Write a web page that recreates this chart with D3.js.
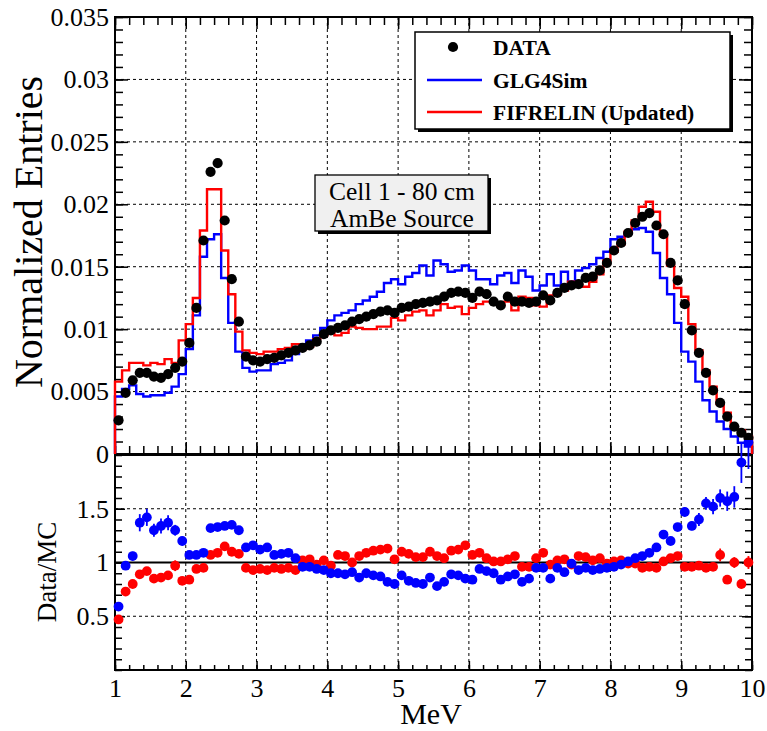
<!DOCTYPE html>
<html>
<head>
<meta charset="utf-8">
<script src="https://cdn.jsdelivr.net/npm/d3@7"></script>
<style>
  html, body { margin: 0; padding: 0; background: #fff; }
  svg { display: block; }
  text { font-family: "Liberation Serif", "Times New Roman", serif; fill: #000; }
</style>
</head>
<body>
<svg id="chart" width="767" height="731"></svg>
<script>
// ---- Energy binning (MeV), 0.1 MeV wide bins ----
const energyBins = [
  1.05,1.15,1.25,1.35,1.45,1.55,1.65,1.75,1.85,1.95,
  2.05,2.15,2.25,2.35,2.45,2.55,2.65,2.75,2.85,2.95,
  3.05,3.15,3.25,3.35,3.45,3.55,3.65,3.75,3.85,3.95,
  4.05,4.15,4.25,4.35,4.45,4.55,4.65,4.75,4.85,4.95,
  5.05,5.15,5.25,5.35,5.45,5.55,5.65,5.75,5.85,5.95,
  6.05,6.15,6.25,6.35,6.45,6.55,6.65,6.75,6.85,6.95,
  7.05,7.15,7.25,7.35,7.45,7.55,7.65,7.75,7.85,7.95,
  8.05,8.15,8.25,8.35,8.45,8.55,8.65,8.75,8.85,8.95,
  9.05,9.15,9.25,9.35,9.45,9.55,9.65,9.75,9.85,9.95
];
const binWidth = 0.1;

// ---- Normalized entries ----
const dataEntries = [
  0.0027,0.0049,0.0059,0.0065,0.0065,0.0062,0.0061,0.0064,0.0069,0.0074,
  0.0089,0.0117,0.0171,0.0226,0.0233,0.0187,0.0140,0.0106,0.0078,0.0075,
  0.0074,0.0076,0.0077,0.0079,0.0081,0.0083,0.0085,0.0087,0.0090,0.0096,
  0.0099,0.0101,0.0103,0.0106,0.0108,0.0110,0.0112,0.0114,0.0115,0.0113,
  0.0117,0.0118,0.0120,0.0121,0.0122,0.0123,0.0126,0.0129,0.0130,0.0129,
  0.0125,0.0130,0.0128,0.0122,0.0119,0.0126,0.0122,0.0122,0.0121,0.0122,
  0.0127,0.0123,0.0129,0.0133,0.0135,0.0136,0.0141,0.0142,0.0147,0.0153,
  0.0163,0.0169,0.0177,0.0185,0.0190,0.0193,0.0183,0.0176,0.0153,0.0139,
  0.0120,0.0099,0.0081,0.0065,0.0051,0.0041,0.0030,0.0022,0.0017,0.0013
];
const glg4simEntries = [
  0.0046,0.0052,0.0055,0.0048,0.0046,0.0047,0.0047,0.0049,0.0054,0.0064,
  0.0084,0.0111,0.0158,0.0172,0.0176,0.0141,0.0105,0.0082,0.0069,0.0066,
  0.0067,0.0067,0.0072,0.0073,0.0075,0.0080,0.0088,0.0091,0.0095,0.0101,
  0.0107,0.0111,0.0113,0.0115,0.0120,0.0123,0.0126,0.0130,0.0137,0.0140,
  0.0136,0.0142,0.0145,0.0151,0.0143,0.0155,0.0152,0.0146,0.0147,0.0151,
  0.0147,0.0140,0.0140,0.0136,0.0143,0.0145,0.0137,0.0147,0.0142,0.0131,
  0.0135,0.0144,0.0135,0.0146,0.0138,0.0147,0.0149,0.0152,0.0157,0.0162,
  0.0172,0.0174,0.0177,0.0180,0.0181,0.0178,0.0161,0.0141,0.0128,0.0105,
  0.0082,0.0074,0.0058,0.0043,0.0034,0.0026,0.0020,0.0014,0.0009,0.0006
];
const fifrelinEntries = [
  0.0058,0.0067,0.0073,0.0073,0.0071,0.0073,0.0072,0.0076,0.0073,0.0091,
  0.0104,0.0125,0.0179,0.0212,0.0212,0.0163,0.0128,0.0098,0.0083,0.0081,
  0.0080,0.0082,0.0082,0.0084,0.0085,0.0088,0.0084,0.0086,0.0092,0.0095,
  0.0098,0.0095,0.0097,0.0102,0.0101,0.0100,0.0100,0.0102,0.0102,0.0109,
  0.0107,0.0111,0.0114,0.0115,0.0111,0.0115,0.0120,0.0117,0.0118,0.0112,
  0.0117,0.0120,0.0122,0.0121,0.0119,0.0122,0.0115,0.0126,0.0125,0.0119,
  0.0118,0.0127,0.0128,0.0131,0.0138,0.0136,0.0134,0.0138,0.0144,0.0155,
  0.0162,0.0168,0.0178,0.0187,0.0198,0.0202,0.0194,0.0175,0.0151,0.0133,
  0.0126,0.0104,0.0083,0.0067,0.0054,0.0040,0.0033,0.0022,0.0019,0.0014
];

// ---- Data/MC ratios and their uncertainties ----
const ratioGlg4sim = [
  0.59,0.97,1.06,1.37,1.42,1.30,1.34,1.37,1.30,1.20,
  1.07,1.07,1.09,1.32,1.33,1.34,1.35,1.30,1.14,1.16,
  1.12,1.14,1.07,1.08,1.09,1.04,0.96,0.96,0.94,0.93,
  0.90,0.90,0.89,0.91,0.86,0.90,0.88,0.87,0.82,0.80,
  0.88,0.83,0.81,0.80,0.86,0.78,0.82,0.89,0.88,0.85,
  0.84,0.94,0.92,0.90,0.84,0.87,0.89,0.82,0.85,0.95,
  0.95,0.85,0.95,0.91,0.99,0.93,0.95,0.93,0.94,0.95,
  0.96,0.98,1.01,1.04,1.06,1.09,1.14,1.26,1.20,1.33,
  1.47,1.34,1.40,1.55,1.52,1.60,1.57,1.61,1.93,2.12
];
const ratioGlg4simErr = [
  0.03,0.03,0.04,0.08,0.08,0.06,0.07,0.07,0.05,0.04,
  0.02,0.02,0.02,0.02,0.02,0.02,0.02,0.02,0.02,0.02,
  0.02,0.02,0.02,0.02,0.02,0.02,0.02,0.02,0.02,0.02,
  0.02,0.02,0.02,0.02,0.02,0.02,0.02,0.02,0.02,0.02,
  0.02,0.02,0.02,0.02,0.02,0.02,0.02,0.02,0.02,0.02,
  0.02,0.02,0.02,0.02,0.02,0.02,0.02,0.02,0.02,0.02,
  0.02,0.02,0.02,0.02,0.02,0.02,0.02,0.02,0.02,0.02,
  0.02,0.02,0.02,0.02,0.02,0.02,0.02,0.03,0.03,0.03,
  0.04,0.04,0.06,0.06,0.07,0.08,0.09,0.10,0.19,0.25
];
const ratioFifrelin = [
  0.47,0.73,0.80,0.89,0.92,0.85,0.86,0.88,0.97,0.83,
  0.84,0.94,0.95,1.07,1.09,1.15,1.10,1.08,0.95,0.93,
  0.94,0.93,0.95,0.94,0.95,0.93,1.02,1.03,0.98,1.02,
  0.97,1.07,1.06,1.00,1.06,1.09,1.11,1.12,1.13,1.03,
  1.10,1.08,1.05,1.05,1.10,1.06,1.04,1.11,1.12,1.16,
  1.07,1.09,1.04,1.01,1.01,1.03,1.06,0.96,0.96,1.04,
  1.09,0.98,1.02,1.03,0.98,1.06,1.05,1.02,1.04,0.99,
  1.01,1.02,0.99,0.99,0.95,0.96,0.95,1.01,1.04,1.06,
  0.96,0.96,0.97,0.95,0.96,1.07,0.84,1.00,0.80,1.00
];
const ratioFifrelinErr = [
  0.02,0.02,0.03,0.03,0.03,0.03,0.03,0.03,0.05,0.03,
  0.02,0.02,0.02,0.02,0.02,0.02,0.02,0.02,0.02,0.02,
  0.02,0.02,0.02,0.02,0.02,0.02,0.02,0.02,0.02,0.02,
  0.02,0.02,0.02,0.02,0.02,0.02,0.02,0.02,0.02,0.02,
  0.02,0.02,0.02,0.02,0.02,0.02,0.02,0.02,0.02,0.02,
  0.02,0.02,0.02,0.02,0.02,0.02,0.02,0.02,0.02,0.02,
  0.02,0.02,0.02,0.02,0.02,0.02,0.02,0.02,0.02,0.02,
  0.02,0.02,0.02,0.02,0.02,0.02,0.02,0.02,0.02,0.02,
  0.02,0.02,0.03,0.03,0.04,0.06,0.04,0.05,0.04,0.06
];

// ---- Axis ticks and labels ----
const xTicks = [1,2,3,4,5,6,7,8,9,10];
const xTickLabels = ["1","2","3","4","5","6","7","8","9","10"];
const yTopTicks = [0,0.005,0.01,0.015,0.02,0.025,0.03,0.035];
const yTopTickLabels = ["0","0.005","0.01","0.015","0.02","0.025","0.03","0.035"];
const yRatioTicks = [0.5,1,1.5];
const yRatioTickLabels = ["0.5","1","1.5"];
const yRatioGrid = [0.5,1.5];
const xTitle = "MeV";
const yTopTitle = "Normalized Entries";
const yRatioTitle = "Data/MC";
const legendLabels = ["DATA","GLG4Sim","FIFRELIN (Updated)"];
const infoLines = ["Cell 1 - 80 cm","AmBe Source"];

// ---- Layout ----
const FONT = '"Liberation Serif","Times New Roman",serif';
const frameL = 115, frameR = 752;
const topT = 17, topB = 454;
const ratT = 455, ratB = 670;
const BLUE = "#0000ff", RED = "#ff0000";

const svg = d3.select("#chart");
svg.append("rect").attr("width", 767).attr("height", 731).attr("fill", "#fff");

const x = d3.scaleLinear().domain([1, 10]).range([frameL, frameR]);
const yTop = d3.scaleLinear().domain([0, 0.035]).range([topB, topT]);
const yRat = d3.scaleLinear().domain([0, 2]).range([ratB, ratT]);

const xMinor = d3.range(1, 10.0001, 0.2);
const yTopMinor = d3.range(0, 0.03501, 0.001);
const yRatMinor = d3.range(0, 2.0001, 0.1);

// ---- Grids (dotted) ----
const grid = svg.append("g").attr("stroke", "#000").attr("stroke-width", 1)
  .attr("stroke-dasharray", "3,3").attr("fill", "none");
yTopTicks.slice(1, -1).forEach(v => {
  grid.append("line").attr("x1", frameL).attr("x2", frameR)
    .attr("y1", yTop(v)).attr("y2", yTop(v));
});
xTicks.slice(1, -1).forEach(v => {
  grid.append("line").attr("x1", x(v)).attr("x2", x(v)).attr("y1", topT).attr("y2", topB);
  grid.append("line").attr("x1", x(v)).attr("x2", x(v)).attr("y1", ratT).attr("y2", ratB);
});
yRatioGrid.forEach(v => {
  grid.append("line").attr("x1", frameL).attr("x2", frameR)
    .attr("y1", yRat(v)).attr("y2", yRat(v));
});

// ---- Frames ----
svg.append("rect").attr("x", frameL).attr("y", topT)
  .attr("width", frameR - frameL).attr("height", topB - topT)
  .attr("fill", "none").attr("stroke", "#000").attr("stroke-width", 2);
svg.append("rect").attr("x", frameL).attr("y", ratT)
  .attr("width", frameR - frameL).attr("height", ratB - ratT)
  .attr("fill", "none").attr("stroke", "#000").attr("stroke-width", 2);

// ---- Axes ----
function styleAxis(g, size) {
  g.select(".domain").remove();
  g.selectAll(".tick line").attr("stroke", "#000").attr("stroke-width", 1.5);
  g.selectAll("text").attr("font-family", FONT).attr("font-size", size).attr("fill", "#000");
  g.attr("font-family", FONT);
}
function addAxis(axis, tx, ty, size) {
  const g = svg.append("g").attr("transform", `translate(${tx},${ty})`).call(axis);
  styleAxis(g, size || 26);
  return g;
}
const noLabel = () => "";

// top panel: y labelled left, ticks on all four sides
addAxis(d3.axisLeft(yTop).tickValues(yTopTicks).tickFormat((d, i) => yTopTickLabels[i])
  .tickSizeInner(-13).tickSizeOuter(0).tickPadding(6), frameL, 0);
addAxis(d3.axisLeft(yTop).tickValues(yTopMinor).tickFormat(noLabel)
  .tickSizeInner(-8).tickSizeOuter(0), frameL, 0);
addAxis(d3.axisRight(yTop).tickValues(yTopTicks).tickFormat(noLabel)
  .tickSizeInner(-13).tickSizeOuter(0), frameR, 0);
addAxis(d3.axisRight(yTop).tickValues(yTopMinor).tickFormat(noLabel)
  .tickSizeInner(-8).tickSizeOuter(0), frameR, 0);
addAxis(d3.axisTop(x).tickValues(xTicks).tickFormat(noLabel)
  .tickSizeInner(-12).tickSizeOuter(0), 0, topT);
addAxis(d3.axisTop(x).tickValues(xMinor).tickFormat(noLabel)
  .tickSizeInner(-8).tickSizeOuter(0), 0, topT);
addAxis(d3.axisBottom(x).tickValues(xTicks).tickFormat(noLabel)
  .tickSizeInner(-12).tickSizeOuter(0), 0, topB);
addAxis(d3.axisBottom(x).tickValues(xMinor).tickFormat(noLabel)
  .tickSizeInner(-8).tickSizeOuter(0), 0, topB);

// ratio panel
addAxis(d3.axisLeft(yRat).tickValues(yRatioTicks).tickFormat((d, i) => yRatioTickLabels[i])
  .tickSizeInner(-10).tickSizeOuter(0).tickPadding(6), frameL, 0);
addAxis(d3.axisLeft(yRat).tickValues(yRatMinor).tickFormat(noLabel)
  .tickSizeInner(-7).tickSizeOuter(0), frameL, 0);
addAxis(d3.axisRight(yRat).tickValues(yRatioTicks).tickFormat(noLabel)
  .tickSizeInner(-10).tickSizeOuter(0), frameR, 0);
addAxis(d3.axisRight(yRat).tickValues(yRatMinor).tickFormat(noLabel)
  .tickSizeInner(-7).tickSizeOuter(0), frameR, 0);
addAxis(d3.axisBottom(x).tickValues(xTicks).tickFormat((d, i) => xTickLabels[i])
  .tickSizeInner(-9).tickSizeOuter(0).tickPadding(9), 0, ratB);
addAxis(d3.axisBottom(x).tickValues(xMinor).tickFormat(noLabel)
  .tickSizeInner(-5).tickSizeOuter(0), 0, ratB);

// ---- Axis titles ----
svg.append("text").attr("transform", `translate(42,232) rotate(-90)`)
  .attr("text-anchor", "middle").attr("font-size", 40).text(yTopTitle);
svg.append("text").attr("transform", `translate(56,572) rotate(-90)`)
  .attr("text-anchor", "middle").attr("font-size", 27).text(yRatioTitle);
svg.append("text").attr("x", 431).attr("y", 724)
  .attr("text-anchor", "middle").attr("font-size", 30).text(xTitle);

// ---- Histograms (step outlines) ----
function stepPoints(values) {
  const pts = [[energyBins[0] - binWidth / 2, 0]];
  values.forEach((v, i) => {
    pts.push([energyBins[i] - binWidth / 2, v]);
    pts.push([energyBins[i] + binWidth / 2, v]);
  });
  pts.push([energyBins[energyBins.length - 1] + binWidth / 2, 0]);
  return pts;
}
const stepLine = d3.line().x(d => x(d[0])).y(d => yTop(d[1]));
svg.append("path").attr("d", stepLine(stepPoints(glg4simEntries)))
  .attr("fill", "none").attr("stroke", BLUE).attr("stroke-width", 2.4)
  .attr("stroke-linejoin", "miter");
svg.append("path").attr("d", stepLine(stepPoints(fifrelinEntries)))
  .attr("fill", "none").attr("stroke", RED).attr("stroke-width", 2.4)
  .attr("stroke-linejoin", "miter");

// ---- Data points ----
svg.append("g").selectAll("circle").data(dataEntries).join("circle")
  .attr("cx", (d, i) => x(energyBins[i])).attr("cy", d => yTop(d))
  .attr("r", 5.1).attr("fill", "#000");

// ---- Ratio panel ----
svg.append("defs").append("clipPath").attr("id", "ratClip")
  .append("rect").attr("x", 100).attr("y", 440).attr("width", 667).attr("height", ratB - 440);

svg.append("line").attr("x1", frameL).attr("x2", frameR)
  .attr("y1", yRat(1)).attr("y2", yRat(1))
  .attr("stroke", "#000").attr("stroke-width", 2.2);

function drawRatio(vals, errs, color) {
  const g = svg.append("g").attr("clip-path", "url(#ratClip)");
  g.selectAll("line").data(vals).join("line")
    .attr("x1", (d, i) => x(energyBins[i])).attr("x2", (d, i) => x(energyBins[i]))
    .attr("y1", (d, i) => yRat(d - errs[i])).attr("y2", (d, i) => yRat(d + errs[i]))
    .attr("stroke", color).attr("stroke-width", 1.8);
  g.selectAll("circle").data(vals).join("circle")
    .attr("cx", (d, i) => x(energyBins[i])).attr("cy", d => yRat(d))
    .attr("r", 4.9).attr("fill", color);
}
drawRatio(ratioFifrelin, ratioFifrelinErr, RED);
drawRatio(ratioGlg4sim, ratioGlg4simErr, BLUE);

// ---- Legend ----
const leg = svg.append("g");
leg.append("rect").attr("x", 418).attr("y", 35).attr("width", 315).attr("height", 97).attr("fill", "#000");
leg.append("rect").attr("x", 415).attr("y", 32).attr("width", 315).attr("height", 97)
  .attr("fill", "#fff").attr("stroke", "#000").attr("stroke-width", 1.5);
const legY = [47, 80, 112];
leg.append("circle").attr("cx", 453).attr("cy", legY[0]).attr("r", 5.1).attr("fill", "#000");
leg.append("line").attr("x1", 427).attr("x2", 482).attr("y1", legY[1]).attr("y2", legY[1])
  .attr("stroke", BLUE).attr("stroke-width", 2.5);
leg.append("line").attr("x1", 427).attr("x2", 482).attr("y1", legY[2]).attr("y2", legY[2])
  .attr("stroke", RED).attr("stroke-width", 2.5);
legendLabels.forEach((t, i) => {
  leg.append("text").attr("x", 493).attr("y", legY[i] + 7.5)
    .attr("font-size", 21.5).attr("font-weight", "bold").text(t);
});

// ---- Info box ----
const info = svg.append("g");
info.append("rect").attr("x", 318).attr("y", 178).attr("width", 173).attr("height", 56).attr("fill", "#000");
info.append("rect").attr("x", 315).attr("y", 175).attr("width", 173).attr("height", 56)
  .attr("fill", "#f0f0f0").attr("stroke", "#000").attr("stroke-width", 1.3);
infoLines.forEach((t, i) => {
  info.append("text").attr("x", 402).attr("y", 200 + i * 27)
    .attr("text-anchor", "middle").attr("font-size", 25.5).text(t);
});
</script>
</body>
</html>
